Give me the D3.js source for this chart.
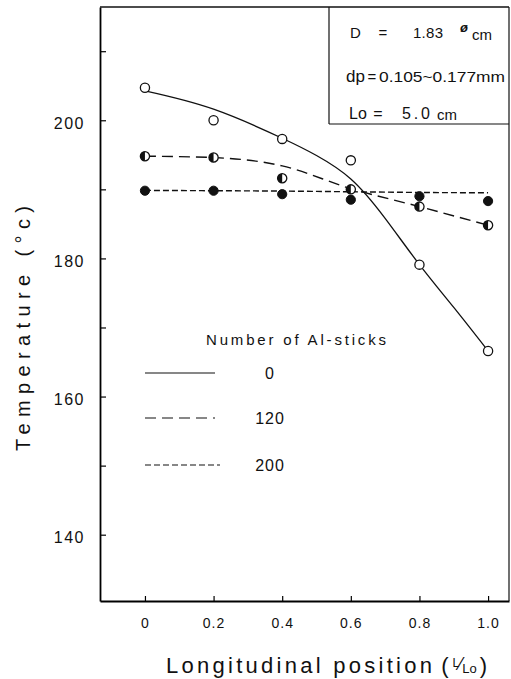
<!DOCTYPE html>
<html>
<head>
<meta charset="utf-8">
<script src="https://cdn.jsdelivr.net/npm/d3@7"></script>
<style>
  body { margin: 0; background: #fff; }
  text { font-family: "Liberation Sans", Arial, sans-serif; fill: #111; }
</style>
</head>
<body>
<div id="chart"></div>
<script>
// data
var positions = [0, 0.2, 0.4, 0.6, 0.8, 1.0];
var xTicks = [0, 0.2, 0.4, 0.6, 0.8, 1.0];
var xTickLabels = ["0", "0.2", "0.4", "0.6", "0.8", "1.0"];
var yTicks = [140, 150, 160, 170, 180, 190, 200, 210];
var yTickLabels = ["140", "", "160", "", "180", "", "200", ""];

// measured temperatures (°C)
var temp0 = [204.7, 200.0, 197.3, 194.2, 179.1, 166.6];
var temp120 = [194.8, 194.6, 191.6, 190.0, 187.5, 184.8];
var temp200 = [189.8, 189.8, 189.3, 188.5, 189.0, 188.3];

// hand-drawn fitted curves
var fit0Positions = [0, 0.2, 0.4, 0.5, 0.6, 0.7, 0.8, 0.9, 1.0];
var fit0 = [204.25, 201.6, 197.4, 194.9, 191.5, 185.8, 179.1, 172.9, 166.6];
var fit120 = [194.8, 194.6, 193.4, 190.1, 187.5, 184.8];
var fit200 = [189.85, 189.8, 189.75, 189.65, 189.55, 189.5];

var legendNames = ["0", "120", "200"];

var margin = { top: 7, right: 2, bottom: 78, left: 100 },
    width = 511 - margin.left - margin.right,
    height = 679 - margin.top - margin.bottom;

var svg = d3.select("#chart")
    .append("svg")
    .attr("width", width + margin.left + margin.right)
    .attr("height", height + margin.top + margin.bottom)
    .append("g")
    .attr("transform", "translate(" + margin.left + "," + margin.top + ")");

var x = d3.scaleLinear().domain([-0.131, 1.061]).range([0, width]);
var y = d3.scaleLinear().domain([130.4, 216.4]).range([height, 0]);

// axes, ticks pointing inward
var xAxis = svg.append("g")
    .attr("transform", "translate(0," + height + ")")
    .call(d3.axisBottom(x).tickValues(xTicks).tickSizeInner(-5).tickSizeOuter(0).tickPadding(17)
        .tickFormat(function (d, i) { return xTickLabels[i]; }));
xAxis.selectAll("text").style("font-size", "14px").attr("letter-spacing", "1px");

var yAxis = svg.append("g")
    .call(d3.axisLeft(y).tickValues(yTicks).tickSizeInner(-6).tickSizeOuter(0).tickPadding(15)
        .tickFormat(function (d, i) { return yTickLabels[i]; }));
yAxis.selectAll("text").style("font-size", "16px").attr("dy", "0.5em").attr("letter-spacing", "1.5px");

svg.selectAll(".domain").attr("stroke-width", 1.8);
svg.selectAll(".tick line").attr("stroke-width", 1.2);

// top and right frame
svg.append("line").attr("x1", 0).attr("y1", 0).attr("x2", width).attr("y2", 0)
    .attr("stroke", "#111").attr("stroke-width", 1.6);
svg.append("line").attr("x1", width).attr("y1", 0).attr("x2", width).attr("y2", height)
    .attr("stroke", "#111").attr("stroke-width", 1.2);

// fitted lines
var line = d3.line()
    .x(function (d, i) { return x(positions[i]); })
    .y(function (d) { return y(d); })
    .curve(d3.curveMonotoneX);

var line0 = d3.line()
    .x(function (d, i) { return x(fit0Positions[i]); })
    .y(function (d) { return y(d); })
    .curve(d3.curveNatural);

svg.append("path").datum(fit200)
    .attr("fill", "none").attr("stroke", "#111").attr("stroke-width", 1.4)
    .attr("stroke-dasharray", "6,3").attr("d", line);
svg.append("path").datum(fit120)
    .attr("fill", "none").attr("stroke", "#111").attr("stroke-width", 1.4)
    .attr("stroke-dasharray", "11,6").attr("d", line);
svg.append("path").datum(fit0)
    .attr("fill", "none").attr("stroke", "#111").attr("stroke-width", 1.3)
    .attr("d", line0);

var r = 4.6;

// 200 sticks: filled
svg.selectAll(".p200").data(temp200).enter().append("circle")
    .attr("cx", function (d, i) { return x(positions[i]); })
    .attr("cy", function (d) { return y(d); })
    .attr("r", r).attr("fill", "#111").attr("stroke", "#111");

// 120 sticks: half filled
var half = svg.selectAll(".p120").data(temp120).enter().append("g")
    .attr("transform", function (d, i) { return "translate(" + x(positions[i]) + "," + y(d) + ")"; });
half.append("circle").attr("r", r).attr("fill", "#fff").attr("stroke", "#111").attr("stroke-width", 1.3);
half.append("path")
    .attr("d", "M0," + (-r) + "A" + r + "," + r + " 0 0 0 0," + r + "Z")
    .attr("fill", "#111");

// no sticks: open
svg.selectAll(".p0").data(temp0).enter().append("circle")
    .attr("cx", function (d, i) { return x(positions[i]); })
    .attr("cy", function (d) { return y(d); })
    .attr("r", r).attr("fill", "#fff").attr("stroke", "#111").attr("stroke-width", 1.3);

// info box in the top right corner
svg.append("line").attr("x1", 229).attr("y1", 0).attr("x2", 229).attr("y2", 117)
    .attr("stroke", "#111").attr("stroke-width", 1.2);
svg.append("line").attr("x1", 229).attr("y1", 117).attr("x2", width).attr("y2", 117)
    .attr("stroke", "#111").attr("stroke-width", 1.2);

var box = svg.append("g").style("font-size", "15px");
box.append("text").attr("x", 250).attr("y", 31).text("D");
box.append("text").attr("x", 283).attr("y", 31).attr("text-anchor", "middle").text("=");
box.append("text").attr("x", 313).attr("y", 31).attr("textLength", 30).text("1.83");
box.append("text").attr("x", 364).attr("y", 25).attr("text-anchor", "middle")
    .style("font-size", "13px").style("font-style", "italic").style("font-weight", "bold").text("ø");
box.append("text").attr("x", 372).attr("y", 33).text("cm");

box.append("text").attr("x", 246).attr("y", 75).style("font-size", "17px").text("dp");
box.append("text").attr("x", 272).attr("y", 75).attr("text-anchor", "middle").text("=");
box.append("text").attr("x", 279).attr("y", 75).attr("textLength", 126).attr("lengthAdjust", "spacingAndGlyphs")
    .text("0.105~0.177mm");

box.append("text").attr("x", 249).attr("y", 112).style("font-size", "16px").text("Lo");
box.append("text").attr("x", 278).attr("y", 112).attr("text-anchor", "middle").style("font-size", "16px").text("=");
box.append("text").attr("x", 302).attr("y", 112).style("font-size", "16px").attr("textLength", 28).text("5.0");
box.append("text").attr("x", 337).attr("y", 113).text("cm");

// legend
svg.append("text")
    .attr("x", 106).attr("y", 338)
    .style("font-size", "15px")
    .attr("textLength", 180)
    .text("Number of Al-sticks");

var dashes = [null, "11,6", "6,3"];
var legendY = [366, 411, 458];
legendNames.forEach(function (name, i) {
    svg.append("line")
        .attr("x1", 45).attr("x2", i == 2 ? 120 : 115)
        .attr("y1", legendY[i]).attr("y2", legendY[i])
        .attr("stroke", "#111").attr("stroke-width", 1.2)
        .attr("stroke-dasharray", dashes[i]);
    svg.append("text")
        .attr("x", 170).attr("y", legendY[i] + 6)
        .attr("text-anchor", "middle")
        .style("font-size", "16px")
        .attr("letter-spacing", "1px")
        .text(name);
});

// axis titles
var xt = svg.append("text")
    .attr("x", 66).attr("y", height + 72)
    .style("font-size", "22px");
xt.append("tspan").attr("textLength", 266).text("Longitudinal position");
xt.append("tspan").attr("dx", 6).text("(");
xt.append("tspan").attr("dx", 4).attr("dy", -6).style("font-size", "12px").text("L");
xt.append("tspan").attr("dy", 3).style("font-size", "18px").text("⁄");
xt.append("tspan").attr("dy", 3).style("font-size", "13px").text("Lo");
xt.append("tspan").attr("dx", 3).text(")");

svg.append("text")
    .attr("transform", "rotate(-90)")
    .attr("x", -(451 - margin.top)).attr("y", -70)
    .style("font-size", "20px")
    .attr("textLength", 245)
    .text("Temperature  (°c)");
</script>
</body>
</html>
